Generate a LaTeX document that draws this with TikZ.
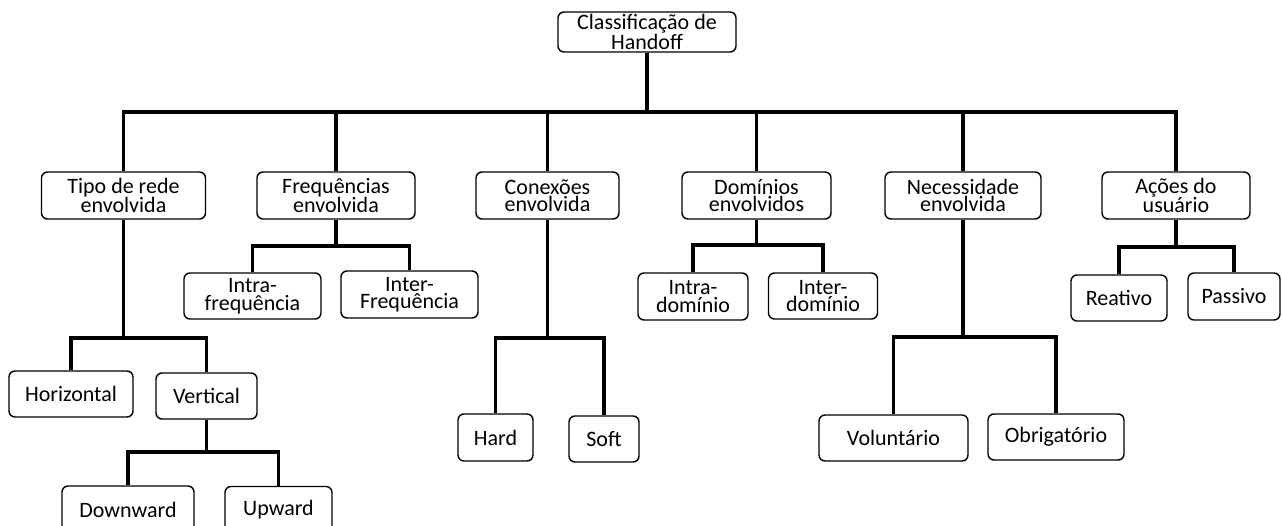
\documentclass[tikz,border=0pt]{standalone}
\usepackage{fontspec}
\setmainfont{Carlito}
\begin{document}
\begin{tikzpicture}[x=1pt,y=1pt,
  box/.style={draw,line width=1.4pt,rounded corners=6pt,fill=white,align=center,inner sep=0pt,font=\fontsize{22}{17.5}\selectfont},
  conn/.style={line width=3.4pt}]
\clip (0,0) rectangle (1282,-526);
\fill[white] (0,0) rectangle (1282,-526);
% nodes
\node[box,minimum width=178,minimum height=40] (root) at (647,-32) {Classificação de\\Handoff};
\node[box,minimum width=164,minimum height=47] (tipo) at (123.5,-195.5) {Tipo de rede\\envolvida};
\node[box,minimum width=158,minimum height=47] (freq) at (336,-195.5) {Frequências\\envolvida};
\node[box,minimum width=143,minimum height=47] (conex) at (547.5,-195.5) {Conexões\\envolvida};
\node[box,minimum width=149,minimum height=47] (dom) at (756.5,-195.5) {Domínios\\envolvidos};
\node[box,minimum width=156,minimum height=47] (nec) at (963,-195.5) {Necessidade\\envolvida};
\node[box,minimum width=148,minimum height=47] (acoes) at (1176,-195.5) {Ações do\\usuário};
\node[box,minimum width=137,minimum height=46] (intraf) at (252.5,-296) {Intra-\\frequência};
\node[box,minimum width=137,minimum height=47] (interf) at (409.5,-294.5) {Inter-\\Frequência};
\node[box,minimum width=124,minimum height=46] (horiz) at (71,-394) {Horizontal};
\node[box,minimum width=101,minimum height=46] (vert) at (206.5,-396) {Vertical};
\node[box,minimum width=132,minimum height=47] (down) at (128,-509.5) {Downward};
\node[box,minimum width=107,minimum height=47] (up) at (278.5,-510) {Upward};
\node[box,minimum width=75,minimum height=47] (hard) at (495.5,-437.5) {Hard};
\node[box,minimum width=70,minimum height=46] (soft) at (604,-439) {Soft};
\node[box,minimum width=110,minimum height=47] (intrad) at (693,-296.5) {Intra-\\domínio};
\node[box,minimum width=109,minimum height=46] (interd) at (823,-296) {Inter-\\domínio};
\node[box,minimum width=149,minimum height=46] (volunt) at (893.5,-438) {Voluntário};
\node[box,minimum width=136,minimum height=46] (obrig) at (1056,-437) {Obrigatório};
\node[box,minimum width=96,minimum height=46] (reativo) at (1119,-298) {Reativo};
\node[box,minimum width=92,minimum height=47] (passivo) at (1234,-296.5) {Passivo};
% bus levels
\coordinate (y112) at (0,-112);
\coordinate (y338) at (0,-338);
\coordinate (y337) at (0,-337);
\coordinate (y452) at (0,-452);
\coordinate (y246) at (0,-246);
\coordinate (y245) at (0,-245);
\coordinate (y247) at (0,-247);
% connectors
\draw[conn] (root.south) -- (root.south |- y112);
\draw[conn] (tipo.north) |- (root.south |- y112) -| (acoes.north);
\draw[conn] (freq.north) -- (freq.north |- y112);
\draw[conn] (conex.north) -- (conex.north |- y112);
\draw[conn] (dom.north) -- (dom.north |- y112);
\draw[conn] (nec.north) -- (nec.north |- y112);
\draw[conn] (tipo.south) -- (tipo.south |- y338);
\draw[conn] (horiz.north) |- (tipo.south |- y338) -| (vert.north);
\draw[conn] (vert.south) -- (vert.south |- y452);
\draw[conn] (down.north) |- (vert.south |- y452) -| (up.north);
\draw[conn] (freq.south) -- (freq.south |- y246);
\draw[conn] (intraf.north) |- (freq.south |- y246) -| (interf.north);
\draw[conn] (conex.south) -- (conex.south |- y338);
\draw[conn] (hard.north) |- (conex.south |- y338) -| (soft.north);
\draw[conn] (dom.south) -- (dom.south |- y245);
\draw[conn] (intrad.north) |- (dom.south |- y245) -| (interd.north);
\draw[conn] (nec.south) -- (nec.south |- y337);
\draw[conn] (volunt.north) |- (nec.south |- y337) -| (obrig.north);
\draw[conn] (acoes.south) -- (acoes.south |- y247);
\draw[conn] (reativo.north) |- (acoes.south |- y247) -| (passivo.north);
\end{tikzpicture}
\end{document}
